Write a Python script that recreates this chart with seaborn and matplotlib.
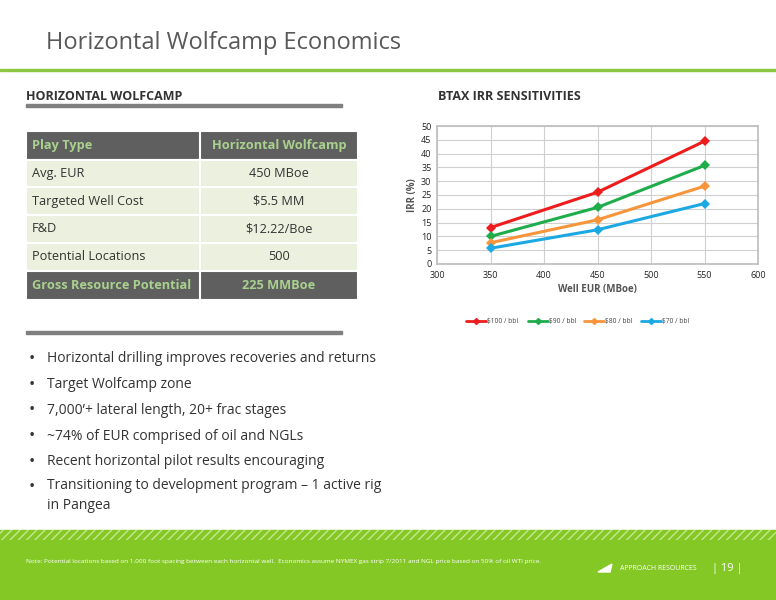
import matplotlib
matplotlib.use("Agg")
import matplotlib.pyplot as plt
import seaborn as sns
import pandas as pd
from matplotlib.patches import Rectangle

eur = [350, 450, 550]
irr_100 = [13.2, 26.0, 44.5]
irr_90 = [10.0, 20.5, 35.7]
irr_80 = [7.7, 16.0, 28.2]
irr_70 = [5.7, 12.4, 21.9]
series_names = ["$100 / bbl", "$90 / bbl", "$80 / bbl", "$70 / bbl"]
colors = ["#ee1c1c", "#1fad4b", "#f7953a", "#1ca8e3"]

table_rows = [["Play Type", "Horizontal Wolfcamp"], ["Avg. EUR", "450 MBoe"],
              ["Targeted Well Cost", "$5.5 MM"], ["F&D", "$12.22/Boe"],
              ["Potential Locations", "500"], ["Gross Resource Potential", "225 MMBoe"]]
bullets = ["Horizontal drilling improves recoveries and returns", "Target Wolfcamp zone",
           "7,000\u2019+ lateral length, 20+ frac stages", "~74% of EUR comprised of oil and NGLs",
           "Recent horizontal pilot results encouraging",
           "Transitioning to development program \u2013 1 active rig\nin Pangea"]

sns.set_theme(style="white")
plt.rcParams['font.family'] = ['Open Sans', 'DejaVu Sans']
W, H = 776, 600
fig = plt.figure(figsize=(7.76, 6), dpi=100)
bg = fig.add_axes([0, 0, 1, 1])
bg.set_xlim(0, W); bg.set_ylim(H, 0); bg.axis("off")

grey = "#595959"
green = "#8dc63f"
bg.text(46, 43, "Horizontal Wolfcamp Economics", fontsize=17, color=grey, va="center")
bg.add_patch(Rectangle((0, 69), W, 2, color=green))
bg.text(26, 97, "HORIZONTAL WOLFCAMP", fontsize=9, fontweight="bold", color="#333333", va="center")
bg.add_patch(Rectangle((26, 104), 316, 3, color="#7f7f7f"))
bg.text(438, 97, "BTAX IRR SENSITIVITIES", fontsize=9, fontweight="bold", color="#333333", va="center")

ys = [131, 160, 187, 215, 243, 271, 300]
for i, row in enumerate(table_rows):
    y0, y1 = ys[i], ys[i + 1]
    dark = i in (0, len(table_rows) - 1)
    fc = "#5f5f5f" if dark else "#ebf1de"
    bg.add_patch(Rectangle((26, y0), 332, y1 - y0, facecolor=fc, edgecolor="white", lw=1.5))
    bg.plot([200, 200], [y0, y1], color="white", lw=1.5)
    tc = "#a9d18e" if dark else "#333333"
    fw = "bold" if dark else "normal"
    ym = (y0 + y1) / 2
    bg.text(32, ym, row[0], fontsize=9.2, color=tc, fontweight=fw, va="center")
    bg.text(279, ym, row[1], fontsize=9.2, color=tc, fontweight=fw, va="center", ha="center")
bg.add_patch(Rectangle((26, 331), 316, 3, color="#7f7f7f"))

by = 359
for b in bullets:
    bg.text(29, by, "\u2022", fontsize=12, color="#333333", va="center")
    if "\n" in b:
        bg.text(47, by - 9, b, fontsize=10, color="#333333", va="top", linespacing=1.45)
    else:
        bg.text(47, by, b, fontsize=10, color="#333333", va="center")
    by += 25.7

bg.add_patch(Rectangle((0, 530), W, 70, color="#84c825"))
bg.add_patch(Rectangle((0, 530), W, 10, facecolor="#84c825", edgecolor="#c8e68f", hatch="////", lw=0))
bg.text(26, 561, "Note: Potential locations based on 1,000 foot spacing between each horizontal well.  Economics assume NYMEX gas strip 7/2011 and NGL price based on 50% of oil WTI price.",
        fontsize=4.6, color="white", va="center")
bg.text(620, 568, "APPROACH RESOURCES", fontsize=5, color="white", va="center")
bg.text(712, 568, "| 19 |", fontsize=8, color="white", va="center")
bg.fill([598, 610, 612], [572, 572, 564], color="white")

ax = fig.add_axes([437 / W, 1 - 264 / H, 321 / W, 138 / H])
df = pd.DataFrame({"EUR": eur * 4,
                   "IRR": irr_100 + irr_90 + irr_80 + irr_70,
                   "Series": [s for s in series_names for _ in eur]})
sns.lineplot(data=df, x="EUR", y="IRR", hue="Series", palette=colors, marker="D",
             markersize=5, markeredgewidth=0, lw=2.2, ax=ax, legend=False)
ax.set_xlim(300, 600); ax.set_ylim(0, 50)
ax.set_xticks(range(300, 601, 50)); ax.set_yticks(range(0, 51, 5))
ax.grid(True, color="#d0d0d0", lw=0.8)
for s in ax.spines.values():
    s.set_color("#bfbfbf")
ax.tick_params(labelsize=6.5, colors="#222222", length=0)
ax.tick_params(axis="x", pad=5)
ax.tick_params(axis="y", pad=4)
ax.set_xlabel("Well EUR (MBoe)", fontsize=7, fontweight="bold", color="#555555", labelpad=3)
ax.set_ylabel("IRR (%)", fontsize=7, fontweight="bold", color="#555555", labelpad=2)

lx = [466, 528, 584, 641]
for x0, name, c in zip(lx, series_names, colors):
    bg.plot([x0, x0 + 20], [321, 321], color=c, lw=2)
    bg.plot([x0 + 10], [321], marker="D", color=c, ms=3)
    bg.text(x0 + 21, 321, name, fontsize=4.8, color="#444444", va="center")

fig.savefig("out.png", dpi=100)
